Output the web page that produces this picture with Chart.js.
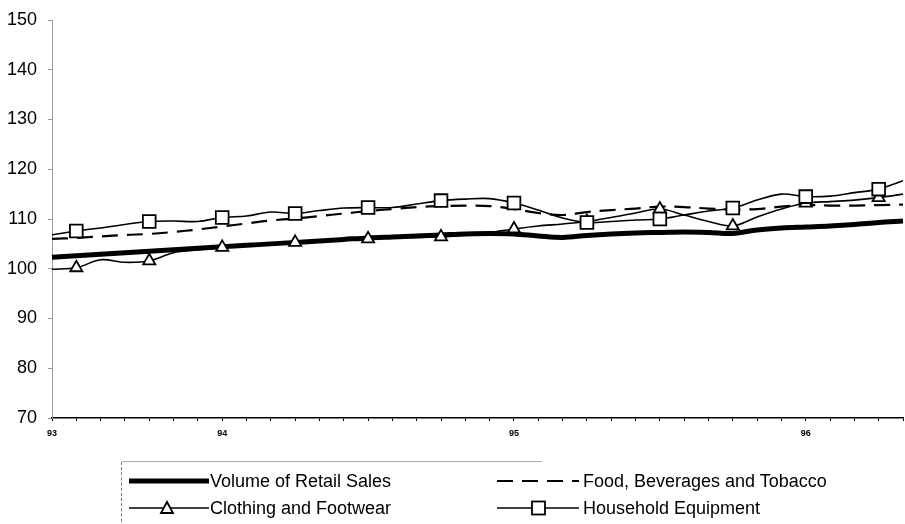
<!DOCTYPE html>
<html>
<head>
<meta charset="utf-8">
<script src="https://cdn.jsdelivr.net/npm/chart.js@4/dist/chart.umd.min.js"></script>
<style>
  html, body { margin: 0; padding: 0; background: #fff; }
  #wrap { position: relative; width: 905px; height: 524px; overflow: hidden; }
  #c { position: absolute; left: 0; top: 0; }
  #legend { position: absolute; left: 121px; top: 462px; width: 760px; height: 70px;
            border-left: 1px dashed #777;
            font-family: "Liberation Sans", Arial, sans-serif; font-size: 18px; color: #000; }
  #legend .topline { position: absolute; left: 0; top: -1px; width: 420px; height: 0;
            border-top: 1px solid #aaa; }
  .item { position: absolute; height: 20px; line-height: 20px; white-space: nowrap; }
  .item svg { position: absolute; left: 0; top: 0; }
  .item span { position: absolute; top: 0; }
</style>
</head>
<body>
<div id="wrap">
<canvas id="c" width="905" height="524"></canvas>
<div id="legend"><div class="topline"></div></div>
</div>
<script>
// Monthly categories, Jun 1993 .. May 1996 (labels only at first point and each January)
const months = ['Jun93','Jul93','Aug93','Sep93','Oct93','Nov93','Dec93',
  'Jan94','Feb94','Mar94','Apr94','May94','Jun94','Jul94','Aug94','Sep94','Oct94','Nov94','Dec94',
  'Jan95','Feb95','Mar95','Apr95','May95','Jun95','Jul95','Aug95','Sep95','Oct95','Nov95','Dec95',
  'Jan96','Feb96','Mar96','Apr96','May96'];
const tickLabels = ['93','','','','','','',
  '94','','','','','','','','','','','',
  '95','','','','','','','','','','','',
  '96','','','','',''];

const seriesNames = ['Volume of Retail Sales','Food, Beverages and Tobacco','Clothing and Footwear','Household Equipment'];

const retailSales = [102.3,102.6,102.9,103.2,103.5,103.8,104.1,104.4,104.7,105.0,105.3,105.6,
  105.9,106.2,106.4,106.6,106.8,107.0,107.1,107.0,106.6,106.3,106.7,107.0,
  107.2,107.3,107.4,107.3,107.1,107.8,108.2,108.4,108.6,108.9,109.3,109.6];
const foodBeverages = [106.0,106.2,106.5,106.8,107.0,107.4,107.9,108.5,109.1,109.7,110.1,110.6,
  111.1,111.6,112.0,112.4,112.6,112.7,112.6,112.0,111.2,110.8,111.4,111.8,
  112.1,112.5,112.4,112.1,111.9,112.0,112.5,112.8,112.7,112.7,112.8,112.9];
const clothingFootwear = [99.9,100.2,101.8,101.3,101.6,103.2,103.8,104.3,104.6,105.0,105.3,105.5,
  105.8,106.0,106.2,106.3,106.4,106.8,107.3,108.0,108.6,109.0,109.5,110.3,
  111.2,112.0,110.8,109.5,108.6,110.4,112.0,113.2,113.5,113.8,114.3,115.0];
const householdEquipment = [106.8,107.6,108.2,108.9,109.5,109.6,109.5,110.3,110.6,111.4,111.1,111.7,
  112.2,112.3,112.3,113.0,113.7,114.0,114.1,113.2,111.8,110.2,109.3,109.5,
  109.8,110.0,110.8,111.6,112.2,113.8,115.0,114.5,114.6,115.3,116.0,117.7];

const yMin = 70, yMax = 150, yStep = 10;

const markerAt = (r) => (ctx) => (ctx.dataIndex % 3 === 1 ? r : 0);

const ctx = document.getElementById('c').getContext('2d');
new Chart(ctx, {
  type: 'line',
  data: {
    labels: months,
    datasets: [
      { label: seriesNames[3], data: householdEquipment, order: 0,
        borderColor: '#000', borderWidth: 1.6, tension: 0.35,
        pointStyle: 'rect', pointRadius: markerAt(9), pointBackgroundColor: '#fff',
        pointBorderColor: '#000', pointBorderWidth: 1.8 },
      { label: seriesNames[2], data: clothingFootwear, order: 1,
        borderColor: '#000', borderWidth: 1.6, tension: 0.35,
        pointStyle: 'triangle', pointRadius: markerAt(7), pointBackgroundColor: '#fff',
        pointBorderColor: '#000', pointBorderWidth: 1.8 },
      { label: seriesNames[1], data: foodBeverages, order: 2,
        borderColor: '#000', borderWidth: 2.2, borderDash: [16, 9], tension: 0.35,
        pointRadius: 0 },
      { label: seriesNames[0], data: retailSales, order: 3,
        borderColor: '#000', borderWidth: 5, tension: 0.35, pointRadius: 0 }
    ]
  },
  options: {
    responsive: false,
    animation: false,
    events: [],
    layout: { padding: { top: 20, right: 2, bottom: 82, left: 0 } },
    plugins: { legend: { display: false }, tooltip: { enabled: false } },
    scales: {
      x: {
        type: 'category',
        offset: false,
        afterFit: (s) => { s.height = 24; s.paddingLeft = 0; s.paddingRight = 0; },
        grid: { display: true, drawOnChartArea: false, drawTicks: true, tickLength: 3, color: '#000', lineWidth: 1 },
        border: { display: true, color: '#000', width: 1.5 },
        ticks: {
          autoSkip: false, maxRotation: 0, minRotation: 0, padding: 7,
          color: '#000',
          font: { family: "'Liberation Sans Narrow','Liberation Sans', Arial", size: 9, weight: 'bold' },
          callback: (v, i) => tickLabels[i]
        }
      },
      y: {
        min: yMin, max: yMax,
        afterFit: (s) => { s.width = 52; s.paddingTop = 0; s.paddingBottom = 0; },
        grid: { display: true, drawOnChartArea: false, drawTicks: true, tickLength: 4, color: '#999', lineWidth: 1 },
        border: { display: true, color: '#999', width: 1, dash: [1, 2] },
        ticks: {
          stepSize: yStep, padding: 11, color: '#000',
          font: { family: "'Liberation Sans', Arial", size: 18 }
        }
      }
    }
  }
});

// HTML legend
const legendItems = [
  { name: seriesNames[0], left: 7, top: 9, textLeft: 81, svg: '<line x1="0" y1="10" x2="80" y2="10" stroke="#000" stroke-width="5"/>' },
  { name: seriesNames[1], left: 375, top: 9, textLeft: 86, svg: '<line x1="0" y1="10" x2="82" y2="10" stroke="#000" stroke-width="2.2" stroke-dasharray="16 9"/>' },
  { name: seriesNames[2], left: 7, top: 36, textLeft: 81, svg: '<line x1="0" y1="10" x2="80" y2="10" stroke="#000" stroke-width="1.6"/><polygon points="38,4 44,15 32,15" fill="#fff" stroke="#000" stroke-width="1.8"/>' },
  { name: seriesNames[3], left: 375, top: 36, textLeft: 86, svg: '<line x1="0" y1="10" x2="82" y2="10" stroke="#000" stroke-width="1.6"/><rect x="35" y="3.5" width="13" height="13" fill="#fff" stroke="#000" stroke-width="1.8"/>' }
];
const leg = document.getElementById('legend');
legendItems.forEach(it => {
  const d = document.createElement('div');
  d.className = 'item';
  d.style.left = it.left + 'px';
  d.style.top = it.top + 'px';
  d.innerHTML = '<svg width="90" height="20">' + it.svg + '</svg><span style="left:' + it.textLeft + 'px">' + it.name + '</span>';
  leg.appendChild(d);
});
</script>
</body>
</html>
